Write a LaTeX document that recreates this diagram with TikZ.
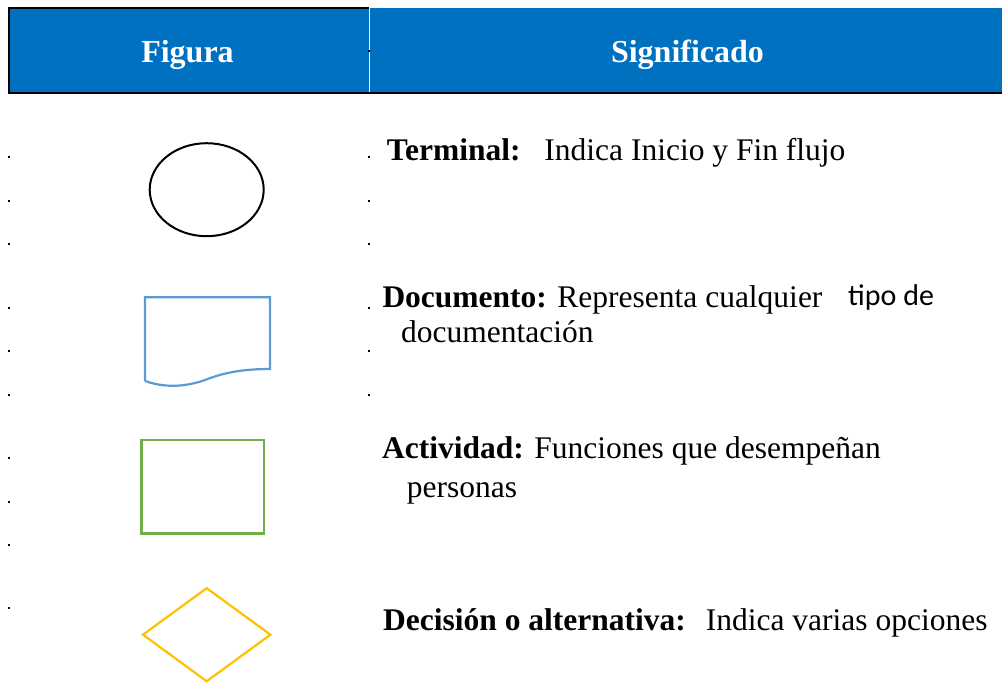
\documentclass[tikz,border=0pt]{standalone}
\usepackage{fontspec}
\setmainfont{Liberation Serif}
\newfontfamily\carlito{Carlito}
\usetikzlibrary{shapes.geometric}
\definecolor{headblue}{HTML}{0070C0}
\definecolor{docblue}{HTML}{5B9BD5}
\definecolor{actgreen}{HTML}{70AD47}
\definecolor{decgold}{HTML}{FFC000}
\tikzset{
  head/.style={text=white, font=\fontsize{32}{36}\selectfont\bfseries, anchor=base, inner sep=0},
  desc/.style={font=\fontsize{31.5}{36}\selectfont, anchor=base west, inner sep=0},
  dot/.style={fill=black, minimum size=1.6pt, inner sep=0}
}
\begin{document}
\begin{tikzpicture}[x=1pt, y=-1pt]
    \useasboundingbox (0,0) rectangle (1002,694);
    % cabecera
    \fill[headblue] (8,8) rectangle (1002,93);
    \draw[line width=2pt] (1002,93) -- (9,93) -- (9,8) -- (369,8);
    \draw[white, line width=0.8pt] (369.5,8) -- (369.5,92);
    \node[head] (figura) at (187.5,62.5) {Figura};
    \node[head] (signif) at (687.5,62.5) {Significado};
    \node[fill=black, minimum width=2pt, minimum height=1.4pt, inner sep=0] (tick) at (368.5,51) {};

    % puntos sueltos
    \foreach \y [count=\i] in {157,200.7,244,307.7,350.7,395,457.7,501.7,545,607.7}
        \node[dot] (pl\i) at (9,\y) {};
    \foreach \y [count=\i] in {157,200.7,244,307.7,350.7,395}
        \node[dot] (pr\i) at (369,\y) {};

    % figuras
    \node[ellipse, draw=black, line width=2pt, minimum width=114pt, minimum height=93pt, inner sep=0] (terminal) at (206.7,189.7) {};
    \draw[docblue, line width=2.2pt] (145,381) -- (145,297.3) -- (270,297.3) -- (270,369)
        .. controls (245,369) and (225,372) .. (205,380)
        .. controls (185,387) and (165,388) .. (145,381);
    \node[rectangle, draw=actgreen, line width=2.3pt, minimum width=122.7pt, minimum height=93.3pt, inner sep=0] (actividad) at (202.7,486.7) {};
    \node[diamond, draw=decgold, line width=2.2pt, minimum width=128.3pt, minimum height=94pt, inner sep=0] (decision) at (206.7,634.7) {};

    % significados
    \node[desc] (t1) at (386.7,160) {\textbf{Terminal:}\hspace{24pt}Indica Inicio y Fin flujo};
    \node[desc] (t2) at (382.3,307.5) {\textbf{Documento:} Representa cualquier};
    \node[desc, font=\fontsize{30}{34}\carlito] (t2b) at (848,305) {tipo de};
    \node[desc] (t2c) at (401,342.5) {documentación};
    \node[desc] (t3) at (382,458.5) {\textbf{Actividad:} Funciones que desempeñan};
    \node[desc] (t3b) at (406.7,497.5) {personas};
    \node[desc] (t4) at (383,630.5) {\textbf{Decisión o alternativa:}\hspace{20pt}Indica varias opciones};
\end{tikzpicture}
\end{document}
